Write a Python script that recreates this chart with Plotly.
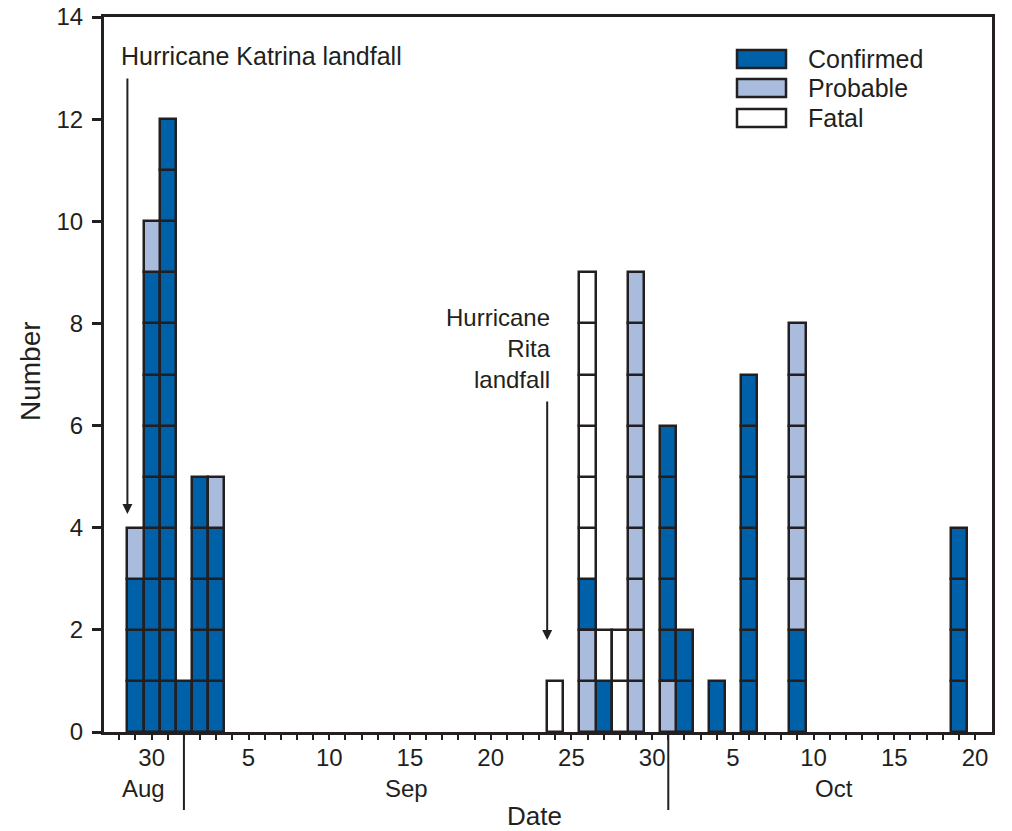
import plotly.graph_objects as go
import pandas as pd

# ---------------- data ----------------
dates = ["2005-08-29", "2005-08-30", "2005-08-31", "2005-09-01", "2005-09-02", "2005-09-03",
         "2005-09-24", "2005-09-26", "2005-09-27", "2005-09-28", "2005-09-29",
         "2005-10-01", "2005-10-02", "2005-10-04", "2005-10-06", "2005-10-09", "2005-10-19"]
confirmed = [3, 9, 12, 1, 5, 4, 0, 1, 1, 0, 0, 5, 2, 1, 7, 2, 4]
probable = [1, 1, 0, 0, 0, 1, 0, 2, 0, 0, 9, 1, 0, 0, 0, 6, 0]
fatal = [0, 0, 0, 0, 0, 0, 1, 6, 1, 2, 0, 0, 0, 0, 0, 0, 0]
# stacking order of the case boxes for each day, bottom to top
stack_order = ["CP", "CP", "C", "C", "C", "CP", "F", "PCF", "CF", "F", "P", "PC", "C", "C", "C", "CP", "C"]

categories = ["Confirmed", "Probable", "Fatal"]
cat_codes = ["C", "P", "F"]

tick_start, tick_end = "2005-08-28", "2005-10-20"
tick_labels = {"2005-08-30": "30", "2005-09-05": "5", "2005-09-10": "10", "2005-09-15": "15",
               "2005-09-20": "20", "2005-09-25": "25", "2005-09-30": "30", "2005-10-05": "5",
               "2005-10-10": "10", "2005-10-15": "15", "2005-10-20": "20"}
y_ticks = [0, 2, 4, 6, 8, 10, 12, 14]
months = ["Aug", "Sep", "Oct"]
month_centers = ["2005-08-29 12:00", "2005-09-14 19:00", "2005-10-11 07:00"]
month_dividers = ["2005-09-01", "2005-10-01"]

katrina_date = "2005-08-28 12:00"
rita_date = "2005-09-23 12:00"

# ---------------- style ----------------
FONT = "Liberation Sans, Arial, Helvetica, sans-serif"
INK = "#231F20"
colors = {"C": "#0060A8", "P": "#AABCDD", "F": "#FFFFFF"}
W, H = 1012, 831
# plot area in page pixels
L, R, T, B = 104, 992, 17, 732


def px(xp):
    return (xp - L) / (R - L)


def py(yp):
    return (B - yp) / (B - T)


counts = {"C": confirmed, "P": probable, "F": fatal}
xs = {c: [] for c in cat_codes}
bases = {c: [] for c in cat_codes}
for i, d in enumerate(dates):
    level = 0
    for code in stack_order[i]:
        for _ in range(counts[code][i]):
            xs[code].append(d)
            bases[code].append(level)
            level += 1

fig = go.Figure()
for name, code in zip(categories, cat_codes):
    fig.add_trace(go.Bar(
        x=xs[code], y=[1] * len(xs[code]), base=bases[code], name=name,
        width=86400000, marker=dict(color=colors[code], line=dict(color=INK, width=2.5)),
        showlegend=False, hoverinfo="skip"))

tick_vals = pd.date_range(tick_start, tick_end)
tick_text = [tick_labels.get(t.strftime("%Y-%m-%d"), "") for t in tick_vals]

fig.update_layout(
    width=W, height=H,
    margin=dict(l=L, r=W - R, t=T, b=H - B, autoexpand=False),
    paper_bgcolor="white", plot_bgcolor="white",
    barmode="overlay", bargap=0,
    font=dict(family=FONT, color=INK, size=24),
)
fig.update_xaxes(
    type="date", range=["2005-08-27 01:12", "2005-10-21 01:12"],
    tickvals=list(tick_vals), ticktext=tick_text,
    ticks="outside", ticklen=5, tickwidth=2, tickcolor=INK,
    showline=True, linewidth=3, linecolor=INK, mirror=True,
    showgrid=False, zeroline=False, automargin=False,
    tickfont=dict(family=FONT, size=24, color=INK), ticklabelstandoff=-3,
    ticklabeloverflow="allow",
)
fig.update_yaxes(
    range=[0, 14.0001], tickvals=y_ticks, ticktext=[str(v) for v in y_ticks],
    ticks="outside", ticklen=9, tickwidth=2.5, tickcolor=INK,
    showline=True, linewidth=3, linecolor=INK, mirror=True,
    showgrid=False, zeroline=False, automargin=False,
    tickfont=dict(family=FONT, size=24, color=INK), ticklabelstandoff=4,
    ticklabeloverflow="allow",
)

shapes = []
for d in month_dividers:
    shapes.append(dict(type="line", xref="x", yref="paper", x0=d, x1=d, y0=0, y1=py(810),
                       line=dict(color=INK, width=2)))
# legend boxes
legend_y = [59, 88, 118]
for code, yc in zip(cat_codes, legend_y):
    shapes.append(dict(type="rect", xref="paper", yref="paper", x0=px(737), x1=px(786),
                       y0=py(yc + 9), y1=py(yc - 9), fillcolor=colors[code],
                       line=dict(color=INK, width=2.5)))
fig.update_layout(shapes=shapes)

ann = []
for name, yc in zip(categories, legend_y):
    ann.append(dict(text=name, xref="paper", yref="paper", x=px(806), y=py(yc),
                    xanchor="left", yanchor="middle", showarrow=False,
                    font=dict(family=FONT, size=25, color=INK)))
for m, c in zip(months, month_centers):
    ann.append(dict(text=m, xref="x", yref="paper", x=c, y=py(788),
                    xanchor="center", yanchor="middle", showarrow=False,
                    font=dict(family=FONT, size=24, color=INK)))
ann.append(dict(text="Date", xref="paper", yref="paper", x=px(534), y=py(816),
                xanchor="center", yanchor="middle", showarrow=False,
                font=dict(family=FONT, size=26, color=INK)))
ann.append(dict(text="Number", xref="paper", yref="paper", x=px(30), y=py(371),
                xanchor="center", yanchor="middle", showarrow=False, textangle=-90,
                font=dict(family=FONT, size=28, color=INK)))
ann.append(dict(text="Hurricane Katrina landfall", xref="paper", yref="paper", x=px(119), y=py(56),
                xanchor="left", yanchor="middle", showarrow=False,
                font=dict(family=FONT, size=25, color=INK)))
ann.append(dict(text="Hurricane<br>Rita<br>landfall", xref="paper", yref="paper", x=px(553), y=py(348),
                xanchor="right", yanchor="middle", align="right", showarrow=False,
                font=dict(family=FONT, size=24, color=INK)))
# arrows
ann.append(dict(text="", xref="x", yref="y", x=katrina_date, y=4.27, ax=0, ay=-437,
                showarrow=True, arrowhead=2, arrowsize=1, arrowwidth=2, arrowcolor=INK))
ann.append(dict(text="", xref="x", yref="y", x=rita_date, y=1.8, ax=0, ay=-240,
                showarrow=True, arrowhead=2, arrowsize=1, arrowwidth=2, arrowcolor=INK))
fig.update_layout(annotations=ann)

fig.write_html("out.html", config={"displayModeBar": False},
               post_script="document.body.style.margin='0';document.body.style.overflow='hidden';")
